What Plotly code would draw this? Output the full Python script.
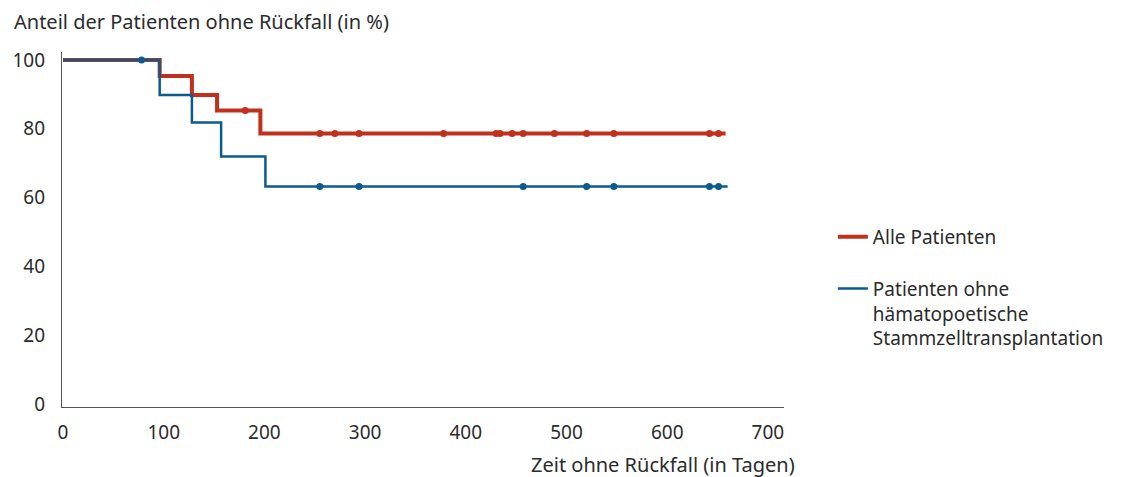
import plotly.graph_objects as go

# Kaplan-Meier step data (days, % without relapse)
alle_tage = [0, 96, 128, 153, 196, 658]
alle_anteil = [100, 95.3, 89.8, 85.3, 78.6, 78.6]
ohne_tage = [0, 96, 128, 157, 201, 660]
ohne_anteil = [100, 89.8, 81.8, 71.9, 63.2, 63.2]

# censored observations
alle_zensiert_tage = [181, 255, 270, 294, 378, 430, 434, 446, 457, 488, 520, 547, 642, 651]
alle_zensiert_anteil = [85.3, 78.6, 78.6, 78.6, 78.6, 78.6, 78.6, 78.6, 78.6, 78.6, 78.6, 78.6, 78.6, 78.6]
ohne_zensiert_tage = [78, 255, 294, 457, 520, 547, 642, 651]
ohne_zensiert_anteil = [100, 63.2, 63.2, 63.2, 63.2, 63.2, 63.2, 63.2]

x_ticks = [0, 100, 200, 300, 400, 500, 600, 700]
y_ticks = [0, 20, 40, 60, 80, 100]

ROT = "#c1301d"
BLAU = "#0b5b8e"
TEXT = "#2b2b2b"
FONT = "Noto Sans"

fig = go.Figure()
fig.add_trace(go.Scatter(x=alle_tage, y=alle_anteil, mode="lines", line_shape="hv",
                         line=dict(color=ROT, width=4), name="Alle Patienten",
                         legendgroup="a"))
fig.add_trace(go.Scatter(x=alle_zensiert_tage, y=alle_zensiert_anteil, mode="markers",
                         marker=dict(color=ROT, size=7), showlegend=False, legendgroup="a"))
fig.add_trace(go.Scatter(x=ohne_tage, y=ohne_anteil, mode="lines", line_shape="hv",
                         line=dict(color=BLAU, width=2.5), legendgroup="b",
                         name="Patienten ohne<br>hämatopoetische<br>Stammzelltransplantation"))
fig.add_trace(go.Scatter(x=ohne_zensiert_tage, y=ohne_zensiert_anteil, mode="markers",
                         marker=dict(color=BLAU, size=7), showlegend=False, legendgroup="b"))

fig.update_layout(
    width=1131, height=477,
    margin=dict(l=60, r=347, t=52, b=70),
    paper_bgcolor="white", plot_bgcolor="white",
    font=dict(family=FONT, size=19, color=TEXT),
    xaxis=dict(range=[-1, 716], tickvals=x_ticks, showgrid=False, zeroline=False,
               showline=True, linecolor="#555", linewidth=1.2,
               ticks="outside", ticklen=8, tickcolor="rgba(0,0,0,0)",
               tickfont=dict(size=19, color=TEXT)),
    yaxis=dict(range=[-0.9, 102.3], tickvals=y_ticks, showgrid=False, zeroline=False,
               showline=True, linecolor="#555", linewidth=1.2,
               ticks="outside", ticklen=12, tickcolor="rgba(0,0,0,0)",
               tickfont=dict(size=19, color=TEXT)),
    legend=dict(x=(833 - 60) / 724, y=1 - (218 - 52) / 355, xanchor="left", yanchor="top",
                valign="top", font=dict(size=19, color=TEXT), tracegroupgap=24,
                bgcolor="rgba(0,0,0,0)"),
    showlegend=True,
)

fig.add_annotation(text="Anteil der Patienten ohne Rückfall (in %)", xref="paper", yref="paper",
                   x=-50/724, y=1 + 31/355, xanchor="left", yanchor="middle", showarrow=False,
                   font=dict(size=20, color=TEXT))
fig.add_annotation(text="Zeit ohne Rückfall (in Tagen)", xref="paper", yref="paper",
                   x=(797-60)/724, y=-(464-407)/355, xanchor="right", yanchor="middle", showarrow=False,
                   font=dict(size=20, color=TEXT))

fig.write_html("out.html", config={"displayModeBar": False},
               post_script="document.body.style.margin='0';")
